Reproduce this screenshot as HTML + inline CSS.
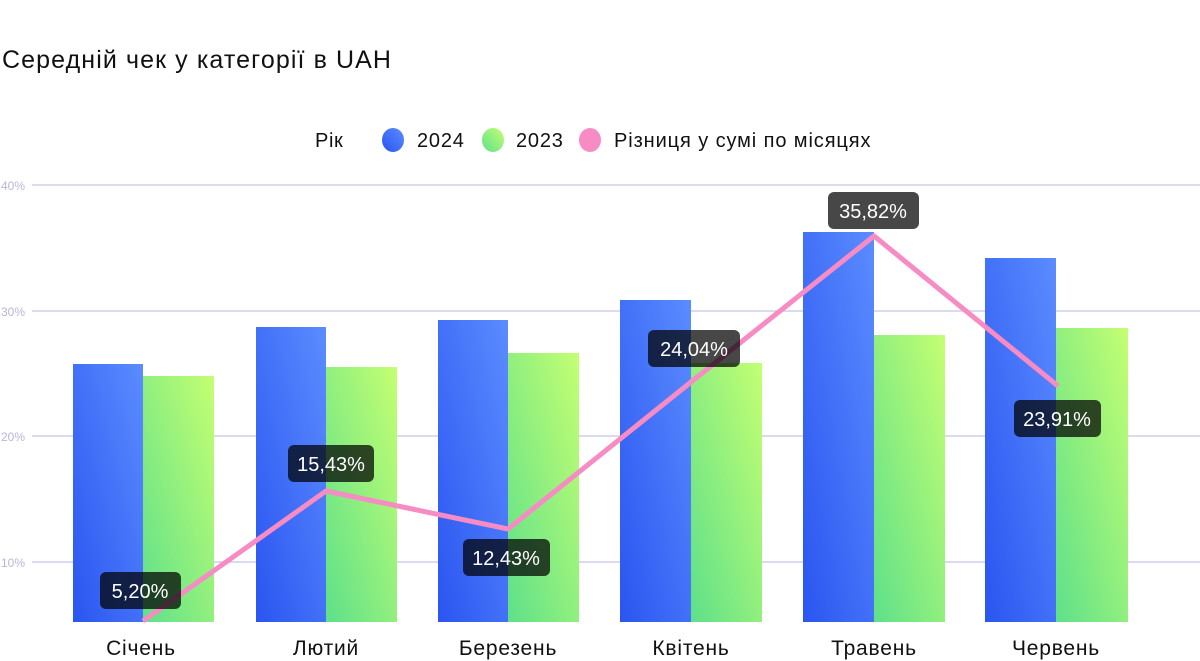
<!DOCTYPE html>
<html><head><meta charset="utf-8"><style>
html,body{margin:0;padding:0;background:#fff;width:1200px;height:661px;overflow:hidden}
svg{display:block}
text{font-family:"Liberation Sans","DejaVu Sans",sans-serif}
</style></head><body>
<svg width="1200" height="661" viewBox="0 0 1200 661" xmlns="http://www.w3.org/2000/svg">
<defs>
<linearGradient id="b" x1="0" y1="1" x2="1" y2="0"><stop offset="0" stop-color="#2a55f0"/><stop offset="1" stop-color="#5b8cff"/></linearGradient>
<linearGradient id="g" x1="0" y1="1" x2="1" y2="0"><stop offset="0" stop-color="#5ee08a"/><stop offset="1" stop-color="#c4ff72"/></linearGradient>
</defs>
<text x="2" y="68" font-size="25" fill="#111" letter-spacing="1.1" font-weight="500">Середній чек у категорії в UAH</text>
<text x="315" y="147" font-size="20" fill="#111" letter-spacing="0.6">Рік</text>
<ellipse cx="393" cy="140" rx="11" ry="12" fill="url(#b)"/>
<text x="417" y="147" font-size="20" fill="#111" letter-spacing="0.8">2024</text>
<ellipse cx="493" cy="140" rx="11" ry="12" fill="url(#g)"/>
<text x="516" y="147" font-size="20" fill="#111" letter-spacing="0.8">2023</text>
<ellipse cx="590" cy="140" rx="11" ry="12" fill="#f78bc4"/>
<text x="614" y="147" font-size="20" fill="#111" letter-spacing="0.9">Різниця у сумі по місяцях</text>
<g stroke="#cfcdea" stroke-width="1.5">
<line x1="32" y1="185" x2="1200" y2="185"/><line x1="32" y1="311" x2="1200" y2="311"/>
<line x1="32" y1="436" x2="1200" y2="436"/><line x1="32" y1="562" x2="1200" y2="562"/>
</g>
<g font-size="12" fill="#b8b6d8">
<text x="1" y="190">40%</text><text x="1" y="316">30%</text><text x="1" y="441">20%</text><text x="1" y="567">10%</text>
</g>
<g fill="url(#b)">
<rect x="73" y="364" width="70" height="258"/><rect x="256" y="327" width="70" height="295"/>
<rect x="438" y="320" width="70" height="302"/><rect x="620" y="300" width="71" height="322"/>
<rect x="803" y="232" width="71" height="390"/><rect x="985" y="258" width="71" height="364"/>
</g>
<g fill="url(#g)">
<rect x="143" y="376" width="71" height="246"/><rect x="326" y="367" width="71" height="255"/>
<rect x="508" y="353" width="71" height="269"/><rect x="691" y="363" width="71" height="259"/>
<rect x="874" y="335" width="71" height="287"/><rect x="1056" y="328" width="72" height="294"/>
</g>
<polyline points="143,621 326,491 508,529 691,382 874,236 1058,386" fill="none" stroke="#f78bc4" stroke-width="5" stroke-linejoin="round"/>
<g fill="rgba(0,0,0,0.72)">
<rect x="100" y="572" width="81" height="37" rx="6"/>
<rect x="288" y="445" width="86" height="37" rx="6"/>
<rect x="463" y="539" width="87" height="37" rx="6"/>
<rect x="648" y="330" width="92" height="37" rx="6"/>
<rect x="828" y="192" width="91" height="37" rx="6"/>
<rect x="1014" y="400" width="87" height="37" rx="6"/>
</g>
<g font-size="20" fill="#fff" text-anchor="middle">
<text x="140" y="598">5,20%</text>
<text x="331" y="471">15,43%</text>
<text x="506" y="565">12,43%</text>
<text x="694" y="356">24,04%</text>
<text x="873" y="218">35,82%</text>
<text x="1057" y="426">23,91%</text>
</g>
<g font-size="21" fill="#111" text-anchor="middle" letter-spacing="0.8">
<text x="141" y="655">Січень</text><text x="326" y="655">Лютий</text>
<text x="508" y="655">Березень</text><text x="691" y="655">Квітень</text>
<text x="874" y="655">Травень</text><text x="1056" y="655">Червень</text>
</g>
</svg>
</body></html>
